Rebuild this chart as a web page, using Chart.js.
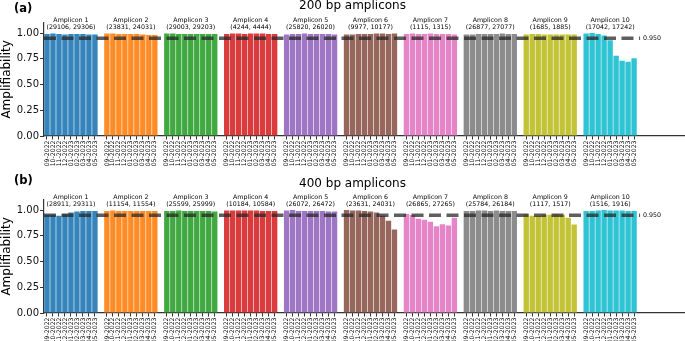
<!DOCTYPE html>
<html>
<head>
<meta charset="utf-8">
<script src="https://cdn.jsdelivr.net/npm/chart.js@4.4.0/dist/chart.umd.min.js"></script>
<style>
  html, body { margin: 0; padding: 0; background: #fff; }
  #wrap { position: relative; width: 685px; height: 341px; overflow: hidden; }
  canvas { position: absolute; left: 0; }
  #chartA { top: 0; }
  #chartB { top: 170px; }
</style>
</head>
<body>
<div id="wrap">
  <canvas id="chartA" width="685" height="170"></canvas>
  <canvas id="chartB" width="685" height="171"></canvas>
</div>
<script>
// Months sampled for every amplicon
const months = ['09-2022', '10-2022', '11-2022', '12-2022', '01-2023', '02-2023', '03-2023', '04-2023', '05-2023'];
const ampliconNames = ['Amplicon 1', 'Amplicon 2', 'Amplicon 3', 'Amplicon 4', 'Amplicon 5',
                       'Amplicon 6', 'Amplicon 7', 'Amplicon 8', 'Amplicon 9', 'Amplicon 10'];

// Genome coordinates shown under each amplicon name
const regions200 = ['(29106, 29306)', '(23831, 24031)', '(29003, 29203)', '(4244, 4444)', '(25820, 26020)',
                    '(9977, 10177)', '(1115, 1315)', '(26877, 27077)', '(1685, 1885)', '(17042, 17242)'];
const regions400 = ['(28911, 29311)', '(11154, 11554)', '(25599, 25999)', '(10184, 10584)', '(26072, 26472)',
                    '(23631, 24031)', '(26865, 27265)', '(25784, 26184)', '(1117, 1517)', '(1516, 1916)'];

// Amplifiability per amplicon, one value per month
const amp200 = [
    [0.99, 0.995, 0.99, 0.985, 0.99, 0.99, 0.99, 0.985, 0.985],
    [0.995, 0.995, 0.99, 0.99, 0.99, 0.99, 0.985, 0.98, 0.98],
    [0.995, 0.995, 0.99, 0.99, 0.99, 0.99, 0.99, 0.99, 0.99],
    [0.99, 0.995, 0.995, 0.99, 0.995, 0.995, 0.995, 0.99, 0.99],
    [0.985, 0.99, 0.99, 0.995, 0.99, 0.99, 0.99, 0.99, 0.985],
    [0.985, 0.985, 0.99, 0.99, 0.99, 0.995, 0.995, 0.99, 0.995],
    [0.99, 0.995, 0.99, 0.99, 0.995, 0.99, 0.99, 0.99, 0.985],
    [0.985, 0.985, 0.99, 0.99, 0.99, 0.99, 0.995, 0.99, 0.99],
    [0.985, 0.99, 0.99, 0.985, 0.985, 0.985, 0.985, 0.985, 0.985],
    [0.995, 1.0, 0.99, 0.975, 0.93, 0.78, 0.73, 0.72, 0.755]
];
const amp400 = [
    [0.955, 0.955, 0.945, 0.96, 0.975, 0.985, 0.99, 0.99, 0.99],
    [0.99, 0.995, 0.99, 0.99, 0.99, 0.99, 0.99, 0.99, 0.99],
    [0.99, 0.99, 0.995, 0.99, 0.99, 0.99, 0.99, 0.99, 0.985],
    [0.995, 0.995, 0.995, 0.995, 0.995, 0.995, 0.99, 0.99, 0.99],
    [0.995, 1.0, 0.99, 0.99, 0.99, 0.99, 0.99, 0.985, 0.985],
    [1.0, 0.995, 0.995, 0.99, 0.985, 0.975, 0.945, 0.895, 0.81],
    [0.96, 0.952, 0.915, 0.905, 0.885, 0.842, 0.862, 0.85, 0.925],
    [0.99, 0.99, 0.995, 0.995, 0.99, 0.995, 0.99, 0.99, 0.99],
    [0.96, 0.945, 0.945, 0.955, 0.955, 0.96, 0.955, 0.925, 0.86],
    [0.99, 0.99, 0.995, 1.0, 0.995, 0.995, 0.995, 0.99, 0.99]
];

const yTicks = [0, 0.25, 0.5, 0.75, 1.0];
const threshold = 0.95;

// tab10 palette, one colour per amplicon
const palette = ['31,119,180', '255,127,14', '44,160,44', '214,39,40', '148,103,189',
                 '140,86,75', '227,119,194', '127,127,127', '188,189,34', '23,190,207'];

const FONT = '"DejaVu Sans", sans-serif';
const SLOT_COUNT = 107;   // 10 groups of (9 bars + 1 gap) plus room for the 0.950 label

// Spread the groups over category slots, leaving one empty slot between groups
function buildSlots(values) {
    const labels = [], data = [], colors = [];
    values.forEach((group, g) => {
        group.forEach((v, m) => {
            labels.push(months[m]);
            data.push(v);
            colors.push(`rgba(${palette[g]},0.9)`);
        });
        labels.push('');
        data.push(null);
        colors.push('rgba(0,0,0,0)');
    });
    while (labels.length < SLOT_COUNT) {
        labels.push('');
        data.push(null);
        colors.push('rgba(0,0,0,0)');
    }
    return { labels, data, colors };
}

// Group headers, threshold line, panel title and letter
const annotate = {
    id: 'annotate',
    afterDatasetsDraw(chart, args, opts) {
        const { ctx, chartArea, scales: { x, y } } = chart;
        ctx.save();

        const yT = y.getPixelForValue(threshold);
        const xEnd = x.getPixelForValue(99);
        ctx.setLineDash([12, 5.5]);
        ctx.lineWidth = 3.5;
        ctx.strokeStyle = 'rgba(40,40,40,0.75)';
        ctx.beginPath();
        ctx.moveTo(chartArea.left, yT);
        ctx.lineTo(xEnd, yT);
        ctx.stroke();
        ctx.setLineDash([]);

        ctx.fillStyle = '#000';
        ctx.font = `6.3px ${FONT}`;
        ctx.textBaseline = 'middle';
        ctx.textAlign = 'left';
        ctx.fillText(threshold.toFixed(3), xEnd + 3, yT);

        ctx.textAlign = 'center';
        ampliconNames.forEach((name, g) => {
            const cx = x.getPixelForValue(g * 10 + 4);
            ctx.fillText(name, cx, y.getPixelForValue(1.118));
            ctx.fillText(opts.regions[g], cx, y.getPixelForValue(1.056));
        });

        ctx.textBaseline = 'alphabetic';
        ctx.font = `12px ${FONT}`;
        ctx.fillText(opts.title, chart.width / 2 + 10, opts.titleY);

        ctx.textAlign = 'left';
        ctx.font = `bold 11.5px ${FONT}`;
        ctx.fillText(opts.letter, 14, opts.letterY);
        ctx.restore();
    }
};

function makePanel(canvasId, values, regions, title, letter, plotTop, plotBottom, titleY, letterY) {
    const canvas = document.getElementById(canvasId);
    const slots = buildSlots(values);
    const axisColor = '#333';

    return new Chart(canvas.getContext('2d'), {
        type: 'bar',
        data: {
            labels: slots.labels,
            datasets: [{
                data: slots.data,
                backgroundColor: slots.colors,
                borderWidth: 0,
                barPercentage: 0.9,
                categoryPercentage: 1.0
            }]
        },
        options: {
            responsive: false,
            animation: false,
            devicePixelRatio: 1,
            layout: { padding: { top: plotTop, left: 0, right: 0, bottom: 0 } },
            scales: {
                x: {
                    offset: true,
                    grid: {
                        offset: false,
                        drawOnChartArea: false,
                        tickLength: 3.5,
                        tickWidth: 1,
                        color: ctx => (ctx.tick && ctx.tick.label) ? axisColor : 'rgba(0,0,0,0)'
                    },
                    border: { display: true, color: axisColor, width: 1.2 },
                    ticks: {
                        autoSkip: false,
                        minRotation: 90,
                        maxRotation: 90,
                        padding: 1,
                        color: '#000',
                        font: { family: FONT, size: 6.2 }
                    },
                    afterFit: scale => {
                        scale.height = canvas.height - plotBottom;
                        scale.paddingLeft = 0;
                        scale.paddingRight = 0;
                    }
                },
                y: {
                    min: 0,
                    max: 1.1,
                    afterBuildTicks: scale => {
                        scale.ticks = yTicks.map(v => ({ value: v }));
                    },
                    grid: { drawOnChartArea: false, tickLength: 4, color: axisColor },
                    border: { display: true, color: axisColor, width: 1.2 },
                    ticks: {
                        padding: 1,
                        color: '#111',
                        font: { family: FONT, size: 10 },
                        callback: v => v.toFixed(2)
                    },
                    title: {
                        display: true,
                        text: 'Amplifiability',
                        color: '#000',
                        padding: 0,
                        font: { family: FONT, size: 12 }
                    },
                    afterFit: scale => { scale.width = 44; }
                }
            },
            plugins: {
                legend: { display: false },
                tooltip: { enabled: false },
                annotate: { regions, title, letter, titleY, letterY }
            }
        },
        plugins: [annotate]
    });
}

document.addEventListener('DOMContentLoaded', () => {
    makePanel('chartA', amp200, regions200, '200 bp amplicons', '(a)', 22.7, 136, 9.3, 12.3);
    makePanel('chartB', amp400, regions400, '400 bp amplicons', '(b)', 29.7, 143, 16.7, 14.3);
});
</script>
</body>
</html>
